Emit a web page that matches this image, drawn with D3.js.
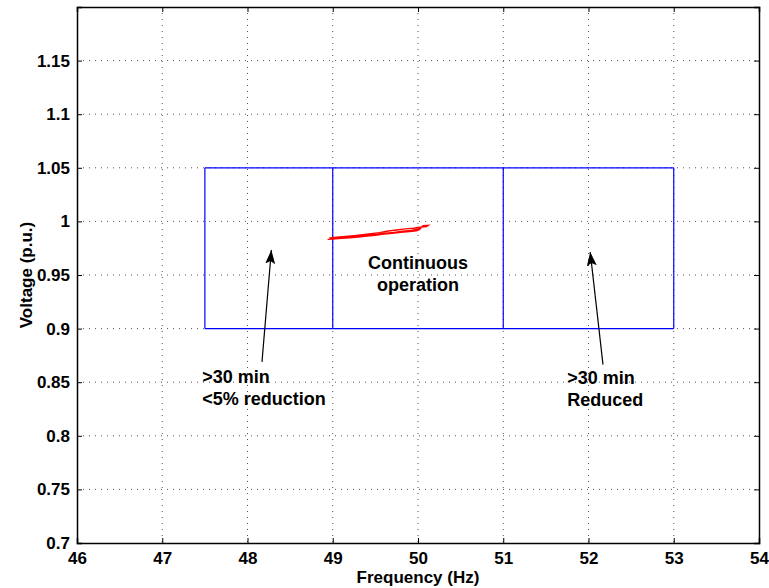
<!DOCTYPE html>
<html>
<head>
<meta charset="UTF-8">
<script src="https://d3js.org/d3.v7.min.js"></script>
<style>
  body { margin: 0; background: #fff; }
  text { font-family: Arial, "Liberation Sans", Helvetica, sans-serif; font-weight: bold; fill: #000; }
  .grid line { stroke: #555; stroke-dasharray: 1,5; stroke-width: 1; }
</style>
</head>
<body>
<script>
// axis ticks
var xTicks = [46, 47, 48, 49, 50, 51, 52, 53, 54];
var yTicks = [0.7, 0.75, 0.8, 0.85, 0.9, 0.95, 1, 1.05, 1.1, 1.15];

// operating region boundaries
var regionFreq = [47.5, 49, 51, 53];
var regionVolt = [0.9, 1.05];

// measured trajectory (frequency, voltage)
var trajFreq = [48.94, 49.00, 49.10, 49.20, 49.30, 49.40, 49.50, 49.60, 49.70, 49.80, 49.90, 49.98, 50.02, 50.04, 50.06, 50.12, 50.10, 50.02,
                49.95, 49.85, 49.75, 49.65, 49.55, 49.45, 49.35, 49.25, 49.15, 49.05, 48.96,
                49.02, 49.12, 49.22, 49.32, 49.42, 49.52, 49.62, 49.72, 49.82, 49.92, 50.00, 50.03];
var trajVolt = [0.9832, 0.9836, 0.9842, 0.9848, 0.9855, 0.9864, 0.9871, 0.9882, 0.9889, 0.9898, 0.9905, 0.9913, 0.9925, 0.9945, 0.9960, 0.9963, 0.9952, 0.9946,
                0.9936, 0.9930, 0.9920, 0.9910, 0.9895, 0.9885, 0.9876, 0.9867, 0.9859, 0.9852, 0.9846,
                0.9842, 0.9848, 0.9854, 0.9861, 0.9869, 0.9878, 0.9890, 0.9897, 0.9908, 0.9916, 0.9928, 0.9940];

// annotations
var labels = [
  {lines: ["Continuous", "operation"], f: 50.0, v: 0.9555, anchor: "middle"},
  {lines: [">30 min", "<5% reduction"], f: 47.47, v: 0.8495, anchor: "start"},
  {lines: [">30 min", "Reduced"], f: 51.75, v: 0.8485, anchor: "start"}
];
var arrows = [
  {f0: 48.17, v0: 0.869, f1: 48.28, v1: 0.9734},
  {f0: 52.17, v0: 0.8664, f1: 52.02, v1: 0.9715}
];

var W = 769, H = 588;
var margin = {top: 7, right: 10, bottom: 45, left: 77};
var width = 759 - margin.left, height = 543 - margin.top;

var svg = d3.select("body").append("svg").attr("width", W).attr("height", H);
var g = svg.append("g").attr("transform", "translate(" + margin.left + "," + margin.top + ")");

var x = d3.scaleLinear().domain([46, 54]).range([0, width]);
var y = d3.scaleLinear().domain([0.7, 1.2]).range([height, 0]);

// grid
g.append("g").attr("class", "grid")
  .selectAll("line").data(xTicks.slice(1, -1)).enter().append("line")
  .attr("x1", d => x(d)).attr("x2", d => x(d)).attr("y1", 0).attr("y2", height);
g.append("g").attr("class", "grid")
  .selectAll("line").data(yTicks.slice(1)).enter().append("line")
  .attr("y1", d => y(d)).attr("y2", d => y(d)).attr("x1", 0).attr("x2", width);

// axes
var fmtY = d => String(+d.toFixed(2));
g.append("g").attr("transform", "translate(0," + height + ")")
  .call(d3.axisBottom(x).tickValues(xTicks).tickSize(-5).tickPadding(9).tickFormat(d3.format("d")))
  .call(a => a.selectAll("text").style("font-size", "17px"));
g.append("g")
  .call(d3.axisLeft(y).tickValues(yTicks).tickSize(-5).tickPadding(7).tickFormat(fmtY))
  .call(a => a.selectAll("text").style("font-size", "17px"));
g.append("g").attr("transform", "translate(0,0)")
  .call(d3.axisTop(x).tickValues(xTicks).tickSize(-5).tickFormat(""));
g.append("g").attr("transform", "translate(" + width + ",0)")
  .call(d3.axisRight(y).tickValues(yTicks).tickSize(-5).tickFormat(""));
g.selectAll(".domain").attr("stroke", "#000").attr("stroke-width", 1.5);
g.selectAll(".tick line").attr("stroke", "#000");

// region boxes
regionFreq.forEach(function(f) {
  g.append("line").attr("x1", x(f)).attr("x2", x(f)).attr("y1", y(regionVolt[0])).attr("y2", y(regionVolt[1]))
    .attr("stroke", "#0000ff").attr("stroke-width", 1.2);
});
regionVolt.forEach(function(v) {
  g.append("line").attr("x1", x(regionFreq[0])).attr("x2", x(regionFreq[regionFreq.length - 1])).attr("y1", y(v)).attr("y2", y(v))
    .attr("stroke", "#0000ff").attr("stroke-width", 1.2);
});

// trajectory
var line = d3.line().x((d, i) => x(trajFreq[i])).y((d, i) => y(trajVolt[i]));
g.append("path").datum(trajFreq).attr("d", line)
  .attr("fill", "none").attr("stroke", "#ff0000").attr("stroke-width", 1.4);

// labels
labels.forEach(function(l) {
  var t = g.append("text").attr("x", x(l.f)).attr("y", y(l.v)).attr("text-anchor", l.anchor).style("font-size", "18px");
  l.lines.forEach(function(s, i) {
    t.append("tspan").attr("x", x(l.f)).attr("dy", i ? 22 : 0).text(s);
  });
});

// arrows
svg.append("defs").append("marker").attr("id", "head")
  .attr("viewBox", "0 0 14 10").attr("refX", 14).attr("refY", 5)
  .attr("markerWidth", 14).attr("markerHeight", 10).attr("markerUnits", "userSpaceOnUse")
  .attr("orient", "auto")
  .append("path").attr("d", "M0,0 L14,5 L0,10 L3,5 Z").attr("fill", "#000");
arrows.forEach(function(a) {
  g.append("line").attr("x1", x(a.f0)).attr("y1", y(a.v0)).attr("x2", x(a.f1)).attr("y2", y(a.v1))
    .attr("stroke", "#000").attr("stroke-width", 1.2).attr("marker-end", "url(#head)");
});

// axis titles
svg.append("text").attr("x", margin.left + width / 2).attr("y", 583).attr("text-anchor", "middle")
  .style("font-size", "17px").text("Frequency (Hz)");
svg.append("text").attr("transform", "translate(32," + (margin.top + height / 2) + ") rotate(-90)")
  .attr("text-anchor", "middle").style("font-size", "17px").text("Voltage (p.u.)");
</script>
</body>
</html>
